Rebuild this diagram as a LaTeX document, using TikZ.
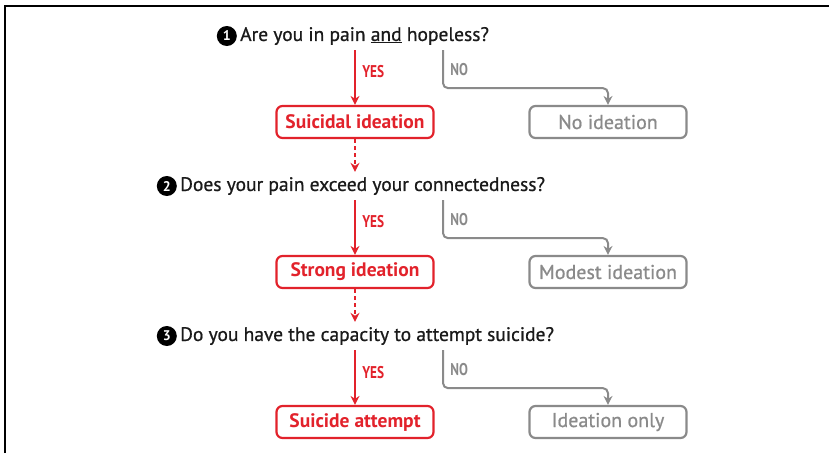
\documentclass[tikz,border=0pt]{standalone}
\usepackage{fontspec}
\setmainfont{PT Sans}
\newfontfamily\flowmedium[FakeBold=0.8]{PT Sans}
\newfontfamily\flowcond[FakeStretch=0.78]{PT Sans Bold}
\usetikzlibrary{calc}
\usetikzlibrary{positioning}
\usetikzlibrary{arrows.meta}
\definecolor{color_flow_yes}{HTML}{E2222B}
\definecolor{color_flow_no}{HTML}{8A8A8A}
\definecolor{color_flow_text}{HTML}{1A1A1A}
\def\flowlinewidth{2pt}
\def\flowyesx{355}
\def\flownox{608}
\def\flownodrop{38}
\tikzset{
    qtext/.style={anchor=west,inner xsep=0pt,inner ysep=5pt,color_flow_text,font=\flowmedium\fontsize{19.5}{20}\selectfont},
    numdot/.style={circle,fill=black,text=white,inner sep=0pt,minimum size=20pt,font=\bfseries\fontsize{14}{14}\selectfont},
    flowbox/.style={rounded corners=6pt,line width=2.2pt,minimum width=157pt,minimum height=32pt,inner sep=0pt,font=\flowmedium\fontsize{20}{20}\selectfont},
    yesbox/.style={flowbox,draw=color_flow_yes,text=color_flow_yes,font=\bfseries\fontsize{19.5}{20}\selectfont},
    nobox/.style={flowbox,draw=color_flow_no,text=color_flow_no},
    yesline/.style={color_flow_yes,line width=\flowlinewidth,-{Stealth[length=9pt,width=9pt]}},
    noline/.style={color_flow_no,line width=\flowlinewidth,rounded corners=5pt,-{Stealth[length=9pt,width=9pt]}},
    dashline/.style={yesline,dash pattern=on 4pt off 3pt},
    yeslabel/.style={right=3pt,color_flow_yes,font=\flowcond\fontsize{17}{17}\selectfont},
    nolabel/.style={right=3pt,color_flow_no,font=\flowcond\fontsize{17}{17}\selectfont}
}
% one question with its two answers
\def\flowrow(#1,#2,#3)#4#5#6{
    \node[qtext] (q#1) at (#2,#3) {#4};
    \node[numdot,left=3pt of q#1] (num#1) {#1};
    \node[yesbox] (y#1) at (\flowyesx,#3+86) {#5};
    \node[nobox] (n#1) at (\flownox,#3+86) {#6};
    \draw[yesline] (q#1.south -| y#1.north) -- node[pos=0.4,yeslabel] {YES} (y#1.north);
    \draw[noline] ($(q#1.south -| y#1.north)+(88,0)$) -- node[pos=0.5,nolabel] {NO} ++(0,\flownodrop) -| (n#1.north);
}

\begin{document}
\begin{tikzpicture}[x=1pt,y=-1pt]
        \useasboundingbox (0,0) rectangle (829,453);
        % frame
        \draw[line width=1.5pt] (5,453) -- (5,6) -- (829,6);
        % the three questions
        \flowrow(1,240,36){Are you in pain \underline{and} hopeless?}{Suicidal ideation}{No ideation}
        \flowrow(2,180,186){Does your pain exceed your connectedness?}{Strong ideation}{Modest ideation}
        \flowrow(3,180,336){Do you have the capacity to attempt suicide?}{Suicide attempt}{Ideation only}
        % from one answer on to the next question
        \draw[dashline] (y1.south) -- (y1.south |- q2.north);
        \draw[dashline] (y2.south) -- (y2.south |- q3.north);
    \end{tikzpicture}
\end{document}
